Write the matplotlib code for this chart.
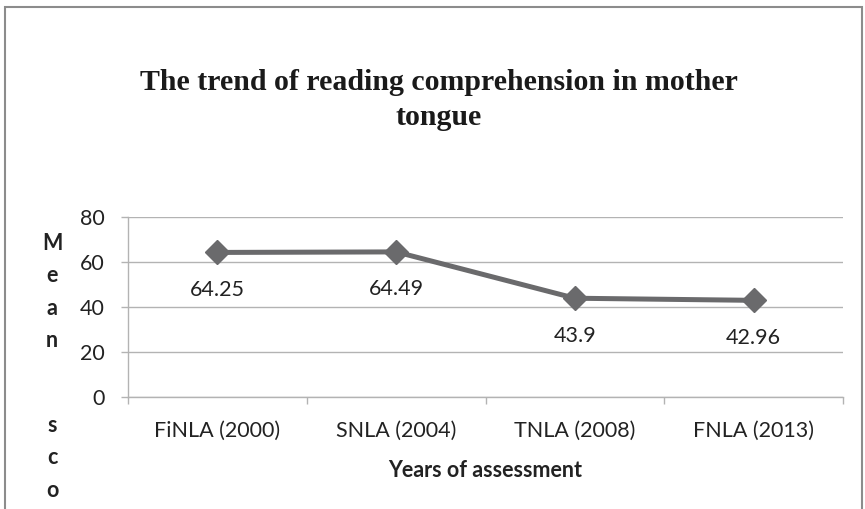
import matplotlib.pyplot as plt
from matplotlib.patches import Rectangle

# data
assessments = ["FiNLA (2000)", "SNLA (2004)", "TNLA (2008)", "FNLA (2013)"]
mean_scores = [64.25, 64.49, 43.9, 42.96]
score_labels = ["64.25", "64.49", "43.9", "42.96"]
y_ticks = [0, 20, 40, 60, 80]

LINE_GREY = "#6a6a6c"
GRID_GREY = "#b3b3b3"
SANS = ["Lato", "DejaVu Sans"]
FS = 15.5

fig = plt.figure(figsize=(8.65, 5.09), dpi=100)
ax = fig.add_axes([128 / 865, 1 - 397 / 509, (843 - 128) / 865, 180 / 509])

x = list(range(len(assessments)))
ax.plot(x, mean_scores, color=LINE_GREY, linewidth=3.6, marker="D",
        markersize=12, markerfacecolor=LINE_GREY, markeredgecolor=LINE_GREY,
        zorder=3)

for xi, yi, lab in zip(x, mean_scores, score_labels):
    ax.annotate(lab, (xi, yi), xytext=(0, -27), textcoords="offset points",
                ha="center", va="center", fontsize=FS, family=SANS,
                color="#222222")

ax.set_xlim(-0.5, len(assessments) - 0.5)
ax.set_ylim(0, 80)
ax.set_yticks(y_ticks)
ax.set_yticklabels([str(v) for v in y_ticks], family=SANS, fontsize=FS,
                   color="#222222")
ax.set_xticks(x)
ax.set_xticklabels(assessments, family=SANS, fontsize=FS, color="#222222")
ax.set_xticks([i - 0.5 for i in range(len(assessments) + 1)], minor=True)
ax.tick_params(axis="x", which="major", length=0, pad=17)
ax.tick_params(axis="x", which="minor", length=5, color=GRID_GREY, width=1)
ax.tick_params(axis="y", length=5, color=GRID_GREY, width=1, pad=12)

ax.grid(axis="y", color=GRID_GREY, linewidth=1)
ax.set_axisbelow(True)
for side in ["top", "right"]:
    ax.spines[side].set_visible(False)
for side in ["left", "bottom"]:
    ax.spines[side].set_color(GRID_GREY)
    ax.spines[side].set_linewidth(1)

ax.set_xlabel("Years of assessment", family=SANS, fontsize=FS,
              fontweight="bold", color="#222222", labelpad=14)

# stacked vertical y label, as in the source
fig.text(52 / 865, 1 - 292 / 509, "M\ne\na\nn", ha="center", va="center",
         family=SANS, fontsize=FS, fontweight="bold", color="#222222",
         linespacing=1.65)
fig.text(52 / 865, 1 - 458 / 509, "s\nc\no", ha="center", va="center",
         family=SANS, fontsize=FS, fontweight="bold", color="#222222",
         linespacing=1.65)

fig.text(439 / 865, 1 - 100 / 509,
         "The trend of reading comprehension in mother\ntongue",
         ha="center", va="center", family=["Liberation Serif", "DejaVu Serif"],
         fontsize=21.5, fontweight="bold", color="#1a1a1a", linespacing=1.4)

# chart frame
fig.add_artist(Rectangle((5 / 865, -0.05), 857 / 865, 1.05 - 7 / 509,
                         transform=fig.transFigure, fill=False,
                         edgecolor="#8c8c8c", linewidth=1.5))

fig.savefig("out.png", dpi=100)
